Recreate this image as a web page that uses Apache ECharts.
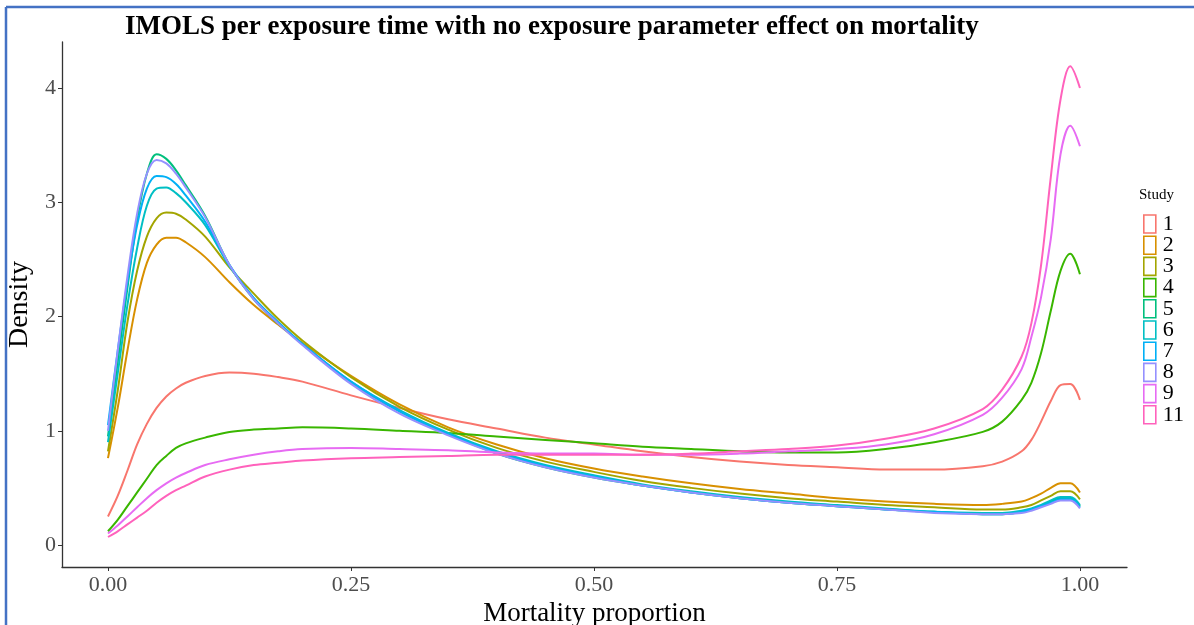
<!DOCTYPE html>
<html>
<head>
<meta charset="utf-8">
<script src="https://cdn.jsdelivr.net/npm/echarts@6/dist/echarts.min.js"></script>
<style>
html,body{margin:0;padding:0;background:#fff;}
#chart{width:1194px;height:625px;}
</style>
</head>
<body>
<div id="chart"></div>
<script>
// ---- data ----
var titleText = 'IMOLS per exposure time with no exposure parameter effect on mortality';
var xAxisTitle = 'Mortality proportion';
var yAxisTitle = 'Density';
var legendTitle = 'Study';
var xTickValues = [0, 0.25, 0.5, 0.75, 1];
var xTickLabels = ['0.00', '0.25', '0.50', '0.75', '1.00'];
var yTickValues = [0, 1, 2, 3, 4];
var yTickLabels = ['0', '1', '2', '3', '4'];

var studies = ['1', '2', '3', '4', '5', '6', '7', '8', '9', '11'];
var colors = ['#F8766D', '#D89000', '#A3A500', '#39B600', '#00BF7D', '#00BFC4', '#00B0F6', '#9590FF', '#E76BF3', '#FF62BC'];

var xs = [0, 0.01, 0.02, 0.03, 0.04, 0.05, 0.06, 0.07, 0.08, 0.1, 0.125, 0.15, 0.175, 0.2, 0.25, 0.3, 0.35, 0.4, 0.45, 0.5, 0.55, 0.6, 0.65, 0.7, 0.75, 0.8, 0.85, 0.9, 0.92, 0.94, 0.95, 0.96, 0.97, 0.98, 0.99, 1.0];

var study1 = [0.25, 0.43, 0.65, 0.88, 1.06, 1.20, 1.30, 1.37, 1.42, 1.48, 1.51, 1.50, 1.47, 1.43, 1.31, 1.20, 1.10, 1.02, 0.94, 0.88, 0.82, 0.77, 0.73, 0.70, 0.68, 0.66, 0.66, 0.69, 0.73, 0.82, 0.92, 1.08, 1.26, 1.40, 1.41, 1.27];
var study2 = [0.76, 1.20, 1.70, 2.15, 2.47, 2.63, 2.69, 2.69, 2.65, 2.52, 2.30, 2.10, 1.93, 1.77, 1.48, 1.23, 1.03, 0.88, 0.76, 0.67, 0.60, 0.54, 0.49, 0.45, 0.41, 0.38, 0.36, 0.35, 0.36, 0.38, 0.41, 0.45, 0.50, 0.54, 0.54, 0.46];
var study3 = [0.82, 1.35, 1.95, 2.40, 2.70, 2.86, 2.91, 2.90, 2.85, 2.70, 2.43, 2.20, 1.98, 1.79, 1.47, 1.21, 1.01, 0.85, 0.73, 0.64, 0.56, 0.50, 0.45, 0.41, 0.38, 0.35, 0.33, 0.31, 0.31, 0.33, 0.35, 0.39, 0.43, 0.47, 0.47, 0.40];
var study4 = [0.12, 0.22, 0.34, 0.46, 0.58, 0.70, 0.78, 0.85, 0.89, 0.94, 0.99, 1.01, 1.02, 1.03, 1.02, 1.00, 0.98, 0.95, 0.92, 0.89, 0.86, 0.84, 0.82, 0.81, 0.81, 0.84, 0.90, 0.99, 1.08, 1.27, 1.42, 1.68, 2.05, 2.40, 2.55, 2.37];
var study5 = [0.95, 1.60, 2.25, 2.85, 3.25, 3.42, 3.38, 3.28, 3.15, 2.88, 2.45, 2.15, 1.94, 1.76, 1.42, 1.17, 0.97, 0.80, 0.68, 0.59, 0.52, 0.46, 0.41, 0.37, 0.34, 0.31, 0.29, 0.27, 0.27, 0.29, 0.31, 0.34, 0.38, 0.41, 0.41, 0.34];
var study6 = [0.90, 1.50, 2.10, 2.60, 2.97, 3.12, 3.13, 3.08, 3.00, 2.80, 2.44, 2.16, 1.95, 1.76, 1.43, 1.18, 0.98, 0.82, 0.70, 0.61, 0.53, 0.47, 0.42, 0.38, 0.35, 0.32, 0.29, 0.28, 0.28, 0.30, 0.32, 0.35, 0.39, 0.42, 0.42, 0.35];
var study7 = [1.05, 1.70, 2.30, 2.80, 3.12, 3.23, 3.22, 3.16, 3.06, 2.83, 2.45, 2.16, 1.95, 1.76, 1.43, 1.17, 0.97, 0.81, 0.69, 0.60, 0.52, 0.46, 0.41, 0.37, 0.34, 0.31, 0.29, 0.27, 0.27, 0.29, 0.31, 0.34, 0.37, 0.40, 0.40, 0.33];
var study8 = [1.00, 1.70, 2.35, 2.90, 3.25, 3.37, 3.34, 3.25, 3.13, 2.87, 2.45, 2.15, 1.94, 1.75, 1.41, 1.15, 0.96, 0.80, 0.68, 0.59, 0.52, 0.46, 0.41, 0.37, 0.34, 0.31, 0.28, 0.27, 0.27, 0.28, 0.30, 0.33, 0.36, 0.39, 0.39, 0.32];
var study9 = [0.10, 0.17, 0.25, 0.33, 0.41, 0.48, 0.54, 0.59, 0.63, 0.70, 0.75, 0.79, 0.82, 0.84, 0.85, 0.84, 0.83, 0.81, 0.80, 0.80, 0.79, 0.79, 0.80, 0.82, 0.84, 0.88, 0.97, 1.14, 1.29, 1.54, 1.82, 2.17, 2.68, 3.42, 3.67, 3.49];
var study11 = [0.07, 0.12, 0.18, 0.24, 0.30, 0.37, 0.43, 0.48, 0.52, 0.60, 0.66, 0.70, 0.72, 0.74, 0.76, 0.77, 0.78, 0.79, 0.79, 0.79, 0.79, 0.80, 0.82, 0.84, 0.87, 0.93, 1.02, 1.19, 1.36, 1.65, 1.94, 2.45, 3.22, 3.90, 4.19, 4.00];

var studyValues = [study1, study2, study3, study4, study5, study6, study7, study8, study9, study11];

// ---- chart ----
var chart = echarts.init(document.getElementById('chart'), null, {renderer: 'canvas'});
var serif = '"Liberation Serif", "Times New Roman", serif';

var series = studies.map(function (s, i) {
  return {
    name: s,
    type: 'line',
    data: xs.map(function (x, j) { return [x, studyValues[i][j]]; }),
    smooth: 0.35,
    showSymbol: false,
    symbol: 'none',
    lineStyle: {color: colors[i], width: 2},
    itemStyle: {color: colors[i]},
    emphasis: {disabled: true},
    animation: false
  };
});

var legendData = studies.map(function (s, i) {
  return {
    name: s,
    icon: 'rect',
    itemStyle: {color: '#ffffff', borderColor: colors[i], borderWidth: 1.6}
  };
});

var option = {
  animation: false,
  backgroundColor: '#ffffff',
  title: {
    text: titleText,
    left: 120,
    top: 9,
    textStyle: {fontFamily: serif, fontWeight: 'bold', fontSize: 27, color: '#000'}
  },
  grid: {left: 62, right: 67, top: 42, bottom: 58, containLabel: false, outerBoundsMode: 'none'},
  xAxis: {
    type: 'value',
    min: -0.0473,
    max: 1.0484,
    name: xAxisTitle,
    nameLocation: 'middle',
    nameGap: 21,
    nameTextStyle: {fontFamily: serif, fontSize: 27, color: '#000'},
    axisLine: {show: true, onZero: false, lineStyle: {color: '#333', width: 1.3}},
    axisTick: {show: true, customValues: xTickValues, length: 4, lineStyle: {color: '#333'}},
    axisLabel: {
      customValues: xTickValues,
      margin: 7,
      fontFamily: serif, fontSize: 22, color: '#4D4D4D',
      formatter: function (v) {
        var k = xTickValues.indexOf(v);
        return k >= 0 ? xTickLabels[k] : '';
      }
    },
    splitLine: {show: false}
  },
  yAxis: {
    type: 'value',
    min: -0.1926,
    max: 4.403,
    name: yAxisTitle,
    nameLocation: 'middle',
    nameGap: 22,
    nameRotate: 90,
    nameTextStyle: {fontFamily: serif, fontSize: 28, color: '#000'},
    axisLine: {show: true, onZero: false, lineStyle: {color: '#333', width: 1.3}},
    axisTick: {show: true, customValues: yTickValues, length: 4, lineStyle: {color: '#333'}},
    axisLabel: {
      customValues: yTickValues,
      margin: 6,
      fontFamily: serif, fontSize: 22, color: '#4D4D4D',
      formatter: function (v) {
        var k = yTickValues.indexOf(v);
        return k >= 0 ? yTickLabels[k] : '';
      }
    },
    splitLine: {show: false}
  },
  legend: {
    data: legendData,
    orient: 'vertical',
    left: 1143,
    top: 213,
    padding: 0,
    itemWidth: 12,
    itemHeight: 18,
    itemGap: -0.8,
    textStyle: {fontFamily: serif, fontSize: 22, color: '#000', padding: [0, 0, 0, 2]},
    selectedMode: false
  },
  graphic: [
    {type: 'text', left: 1139, top: 188, style: {text: legendTitle, font: '15px ' + serif, fill: '#000'}},
    {type: 'line', shape: {x1: 6, y1: 7, x2: 1194, y2: 7}, style: {stroke: '#4472C4', lineWidth: 2.5}},
    {type: 'line', shape: {x1: 6, y1: 7, x2: 6, y2: 625}, style: {stroke: '#4472C4', lineWidth: 2.5}}
  ],
  series: series
};
chart.setOption(option);
</script>
</body>
</html>
